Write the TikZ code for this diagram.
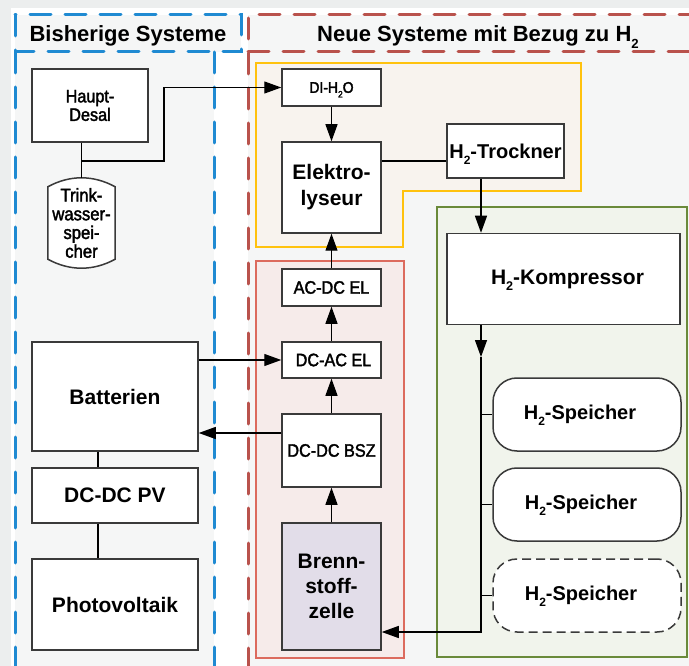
\documentclass[tikz,border=0pt]{standalone}
\usepackage{fontspec}
\setmainfont{Liberation Sans}
\newfontfamily\narrowfont[FakeStretch=0.9,FakeBold=2]{Liberation Sans}
\usetikzlibrary{arrows.meta,calc}
\definecolor{outerbg}{HTML}{ECEEEE}
\definecolor{colbg}{HTML}{F5F6F6}
\definecolor{yelbg}{HTML}{F8F3EE}
\definecolor{yell}{HTML}{FFC20E}
\definecolor{redbg}{HTML}{F6EBEA}
\definecolor{redl}{HTML}{DC6B5E}
\definecolor{greenbg}{HTML}{F1F4EC}
\definecolor{greenl}{HTML}{6A8A3A}
\definecolor{bzfill}{HTML}{E2DDE9}
\definecolor{bluedash}{HTML}{1F8AD2}
\definecolor{reddash}{HTML}{B9524C}
\definecolor{boxc}{HTML}{3A3A3A}
\newcommand{\hsub}[1]{\raisebox{-0.3em}[0pt][0pt]{\scalebox{0.6}{#1}}}
\begin{document}
\begin{tikzpicture}[x=1pt,y=-1pt,
  box/.style={draw=boxc, line width=1.5pt, fill=white, inner sep=0pt, align=center},
  bigtxt/.style={font=\bfseries\fontsize{21}{26}\selectfont},
  midtxt/.style={font=\bfseries\fontsize{20}{24}\selectfont},
  smtxt/.style={font=\narrowfont\fontsize{18}{18.5}\selectfont},
  titletxt/.style={font=\bfseries\fontsize{22}{22}\selectfont, anchor=base, inner sep=0pt},
  speicher/.style={box, rounded corners=24pt, minimum width=188, minimum height=73},
  stxt/.style={midtxt, inner sep=0pt},
  arr/.style={-{Triangle[length=17pt,width=12pt]}, line width=1.3pt},
  conn/.style={line width=1.3pt},
  dashline/.style={line width=3pt, line cap=round, dash pattern=on 21pt off 14pt}
]
\useasboundingbox (0,0) rectangle (689,666);
% backgrounds
\fill[outerbg] (0,0) rectangle (689,666);
\fill[white] (11,8) rectangle (689,666);
\fill[colbg] (15,15) rectangle (241,52);
\fill[colbg] (15,52) rectangle (214,666);
\fill[colbg] (248,15) rectangle (689,666);
% dashed frames
\draw[dashline, draw=bluedash] (15,15) rectangle (241,52);
\draw[dashline, draw=bluedash] (15,52) -- (15,680);
\draw[dashline, draw=bluedash] (214,52) -- (214,680);
\draw[dashline, draw=reddash] (700,15) -- (248,15) -- (248,680);
\draw[dashline, draw=reddash] (248,52) -- (700,52);
\node[titletxt] (t1) at (128,42) {Bisherige Systeme};
\node[titletxt] (t2) at (478,42) {Neue Systeme mit Bezug zu H\hsub{2}};
% group frames
\draw[draw=yell, line width=2.6pt, fill=yelbg] (256,63) -- (581,63) -- (581,191) -- (403,191) -- (403,247) -- (256,247) -- cycle;
\draw[draw=redl, line width=2.6pt, fill=redbg] (256,261) rectangle (404,658);
\draw[draw=greenl, line width=2.6pt, fill=greenbg] (437,207) rectangle (687,657);
% left column
\node[box, smtxt, minimum width=116, minimum height=73] (hd) at (90,105.5) {Haupt-\\Desal};
\node[inner sep=0pt, minimum width=67, minimum height=90] (tw) at (81.5,223) {};
\draw[line width=1.5pt, draw=boxc, fill=white]
  ($(tw.north west)+(0,9)$) .. controls ($(tw.north west)+(22,-3)$) and ($(tw.north east)+(-22,-3)$) .. ($(tw.north east)+(0,9)$)
  -- ($(tw.south east)+(0,-9)$) .. controls ($(tw.south east)+(-22,3)$) and ($(tw.south west)+(22,3)$) .. ($(tw.south west)+(0,-9)$) -- cycle;
\node[align=center, inner sep=0pt, font=\narrowfont\fontsize{18.5}{18.7}\selectfont] (twt) at (tw.center) {Trink-\\wasser-\\spei-\\cher};
\node[box, bigtxt, minimum width=166, minimum height=109] (batt) at (115,396.5) {Batterien};
\node[box, bigtxt, minimum width=166, minimum height=55] (pv) at (115,495.5) {DC-DC PV};
\node[box, bigtxt, minimum width=166, minimum height=91] (ph) at (115,604.5) {Photovoltaik};
% middle column
\node[box, font=\narrowfont\fontsize{15.5}{15}\selectfont, minimum width=99, minimum height=37] (di) at (331.5,87.5) {DI-H\hsub{2}O};
\node[box, bigtxt, minimum width=99, minimum height=91] (el) at (331.5,187.5) {Elektro-\\lyseur};
\node[box, midtxt, minimum width=117, minimum height=54] (tr) at (505.5,151) {H\hsub{2}-Trockner};
\node[box, smtxt, minimum width=99, minimum height=37] (acdc) at (331.5,287.5) {AC-DC EL};
\node[box, smtxt, minimum width=99, minimum height=36] (dcac) at (331.5,360) {\hspace{4pt}DC-AC EL};
\node[box, smtxt, minimum width=99, minimum height=73] (dcdc) at (331.5,450.5) {DC-DC BSZ};
\node[box, fill=bzfill, font=\bfseries\fontsize{21}{25}\selectfont, minimum width=99, minimum height=127] (bz) at (331.5,586.5) {Brenn-\\stoff-\\zelle};
% right column
\node[box, bigtxt, minimum width=233, minimum height=91] (ko) at (563.5,279) {\hspace{8pt}H\hsub{2}-Kompressor};
\node[speicher] (s1) at (587,414.5) {};
\node[speicher] (s2) at (587,504.5) {};
\node[speicher, dashed, dash pattern=on 9pt off 5pt] (s3) at (587,595.5) {};
\node[stxt] (s1t) at ($(s1.center)+(-7,0)$) {H\hsub{2}-Speicher};
\node[stxt] (s2t) at ($(s2.center)+(-6,0)$) {H\hsub{2}-Speicher};
\node[stxt] (s3t) at ($(s3.center)+(-6,0)$) {H\hsub{2}-Speicher};
% connectors
\coordinate (j1) at (164,161);
\coordinate (j2) at (0,161);
\coordinate (tx) at (481,0);
\coordinate (j3) at (481,357);
\coordinate (j4) at (481,632);
\coordinate (j5) at (0,433);
\coordinate (j6) at (98,0);
\draw[conn] (tw.north |- hd.south) -- (tw.north);
\draw[arr] (tw.north |- j1) -- (j1) -- (j1 |- di.west) -- (di.west);
\draw[arr] (di.south) -- (el.north);
\draw[conn] (el.east |- j2) -- (tr.west |- j2);
\draw[arr] (tr.south -| tx) -- (ko.north -| tx);
\draw[arr] (ko.south -| tx) -- (j3);
\draw[arr] (j3) -- (j4) -- (bz.east |- j4);
\draw[conn] (s1.west -| tx) -- (s1.west);
\draw[conn] (s2.west -| tx) -- (s2.west);
\draw[conn] (s3.west -| tx) -- (s3.west);
\draw[arr] (acdc.north) -- (el.south);
\draw[arr] (dcac.north) -- (acdc.south);
\draw[arr] (dcdc.north) -- (dcac.south);
\draw[arr] (bz.north) -- (dcdc.south);
\draw[arr] (batt.east |- dcac.west) -- (dcac.west);
\draw[arr] (dcdc.west |- j5) -- (batt.east |- j5);
\draw[conn] (batt.south -| j6) -- (pv.north -| j6);
\draw[conn] (pv.south -| j6) -- (ph.north -| j6);
\end{tikzpicture}
\end{document}
